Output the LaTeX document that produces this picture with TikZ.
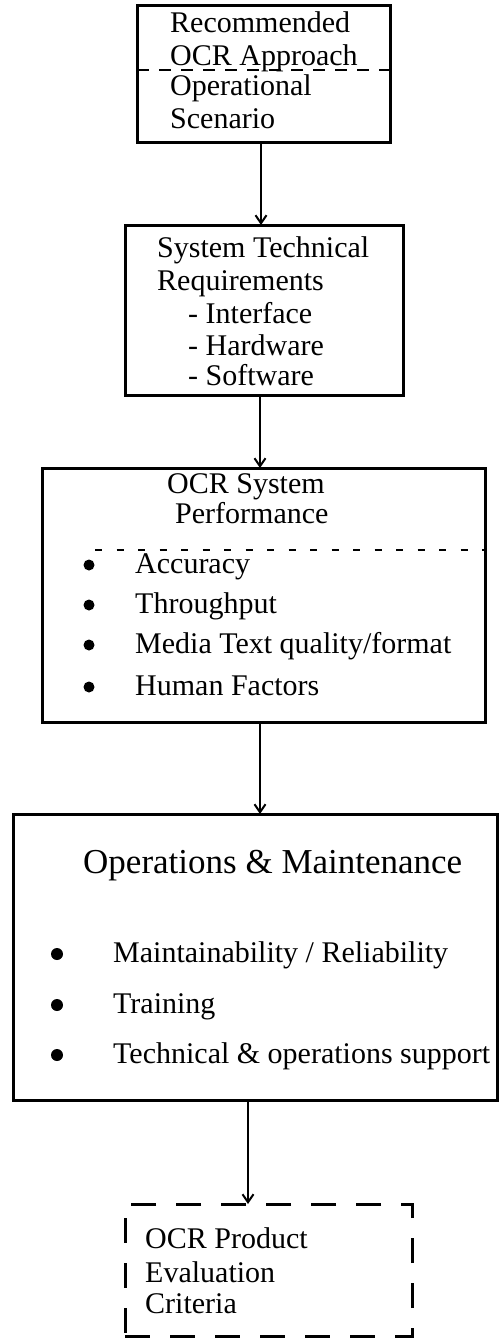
\documentclass[tikz,border=0pt]{standalone}
\usepackage{fontspec}
\setmainfont{Liberation Serif}
\usetikzlibrary{arrows.meta}
\begin{document}
\begin{tikzpicture}[x=1pt,y=-1pt,
  box/.style={draw, line width=3pt, inner sep=0pt, outer sep=0pt},
  dbox/.style={box, dash pattern=on 25pt off 20pt},
  txt/.style={anchor=base west, inner sep=0pt, font=\fontsize{30}{32}\selectfont},
  bigtxt/.style={txt, font=\fontsize{35}{37}\selectfont},
  arr/.style={line width=1.5pt, -{Straight Barb[length=8pt,width=11pt,line width=2pt]}},
  sep/.style={line width=1.5pt, dash pattern=on 12pt off 10pt},
  dotsep/.style={line width=1.5pt, dash pattern=on 7pt off 14.5pt},
  bullet/.style={circle, fill, inner sep=0pt, minimum size=#1}
]
% page frame
\useasboundingbox (0,0) rectangle (499,1338);

% boxes
\node[box, minimum width=253pt, minimum height=136pt] (b1) at (263.5,74) {};
\node[box, minimum width=278pt, minimum height=170pt] (b2) at (264,310) {};
\node[box, minimum width=443pt, minimum height=254pt] (b3) at (263.5,595) {};
\node[box, minimum width=484pt, minimum height=286pt] (b4) at (255,957) {};
\node[dbox, minimum width=287pt, minimum height=132pt] (b5) at (268.5,1270) {};

% box 1: approach and scenario
\node[txt] (t11) at (170,33) {Recommended};
\node[txt] (t12) at (170,66) {OCR Approach};
\node[txt] (t13) at (170,95) {Operational};
\node[txt] (t14) at (170,128) {Scenario};
\coordinate (s1) at (0,70);
\draw[sep] (b1.west |- s1) -- (b1.east |- s1);

% box 2: technical requirements
\node[txt] (t21) at (157,257) {System Technical};
\node[txt] (t22) at (157,290) {Requirements};
\node[txt] (t23) at (188,323) {- Interface};
\node[txt] (t24) at (188,355) {- Hardware};
\node[txt] (t25) at (188,385) {- Software};

% box 3: system performance
\node[txt] (t31) at (167,493) {OCR System};
\node[txt] (t32) at (175,523) {Performance};
\coordinate (s3) at (95,550);
\draw[dotsep] (s3) -- (b3.east |- s3);
\foreach \y/\t [count=\i] in {573/{Accuracy}, 613/{Throughput}, 653/{Media Text quality/format}, 695/{Human Factors}}{
  \node[bullet=11pt] (p3\i) at (89,\y-8) {};
  \node[txt] (t3\i) at (135,\y) {\t};
}

% box 4: operations and maintenance
\node[bigtxt] (t41) at (83,873) {Operations \& Maintenance};
\foreach \y/\t [count=\i] in {962/{Maintainability / Reliability}, 1013/{Training}, 1063/{Technical \& operations support}}{
  \node[bullet=12pt] (p4\i) at (57,\y-8) {};
  \node[txt] (u4\i) at (113,\y) {\t};
}

% box 5: evaluation criteria
\node[txt] (t51) at (145,1248) {OCR Product};
\node[txt] (t52) at (145,1282) {Evaluation};
\node[txt] (t53) at (145,1313) {Criteria};

% connectors
\coordinate (a1) at (261,0);
\coordinate (a2) at (260,0);
\coordinate (a3) at (260,0);
\coordinate (a4) at (248,0);
\draw[arr] (b1.south -| a1) -- (b2.north -| a1);
\draw[arr] (b2.south -| a2) -- (b3.north -| a2);
\draw[arr] (b3.south -| a3) -- (b4.north -| a3);
\draw[arr] (b4.south -| a4) -- (b5.north -| a4);
\end{tikzpicture}
\end{document}
